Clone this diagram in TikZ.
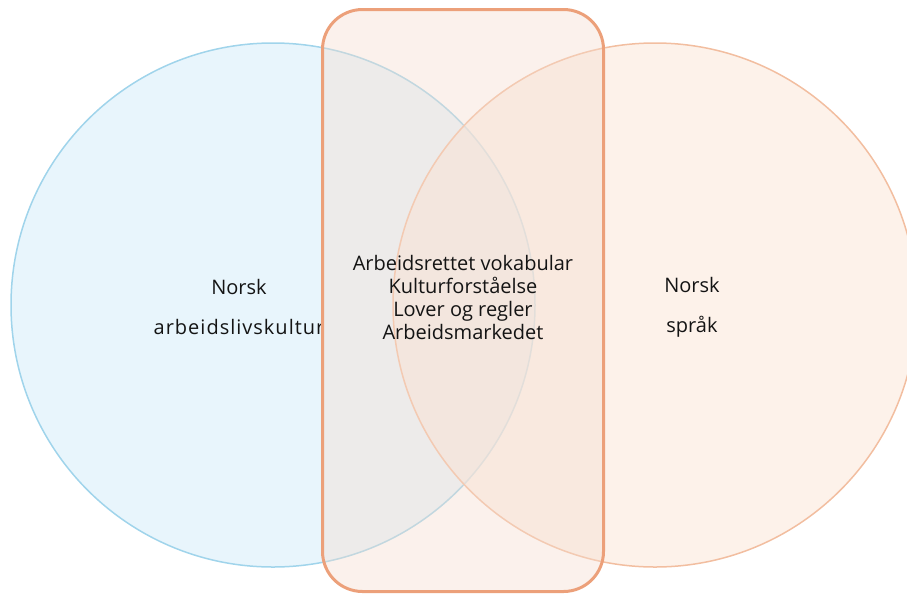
\documentclass[tikz,border=0pt]{standalone}
\usepackage{fontspec}
\setmainfont{Open Sans}
\definecolor{lfill}{RGB}{232,245,252}
\definecolor{lline}{RGB}{160,212,235}
\definecolor{rfill}{RGB}{251,233,220}
\definecolor{rline}{RGB}{242,190,160}
\definecolor{bfill}{RGB}{245,220,207}
\definecolor{bline}{RGB}{236,160,122}
\definecolor{txt}{RGB}{20,20,20}
\begin{document}
\begin{tikzpicture}[x=1pt,y=-1pt,
  leftc/.style={circle,minimum size=524pt,inner sep=0pt,fill=lfill,draw=lline,line width=1.5pt},
  rightc/.style={circle,minimum size=524pt,inner sep=0pt,fill=rfill,fill opacity=0.6,draw=rline,draw opacity=1,line width=1.5pt},
  box/.style={rectangle,rounded corners=40pt,minimum width=281pt,minimum height=582pt,inner sep=0pt,fill=bfill,fill opacity=0.4,draw=bline,draw opacity=1,line width=3pt},
  lbl/.style={align=center,text=txt,font=\fontsize{20}{23}\selectfont,inner sep=0pt}]
\useasboundingbox (0,0) rectangle (907,595);
\clip (0,0) rectangle (907,595);
\node[leftc] (L) at (273,305) {};
\node[rightc] (R) at (655,305) {};
\begin{scope}
\clip (0,0) rectangle (322,595);
\node[lbl] (lt) at (239,307) {Norsk\\[17pt]{\addfontfeature{LetterSpace=5}arbeidslivskultur}};
\end{scope}
\node[lbl] (rt) at (692,307) {Norsk\\[17pt]språk};
\node[box] (B) at (463,300.5) {};
\node[lbl] (ct) at (463,297) {Arbeidsrettet vokabular\\Kulturforståelse\\Lover og regler\\Arbeidsmarkedet};
\end{tikzpicture}
\end{document}
